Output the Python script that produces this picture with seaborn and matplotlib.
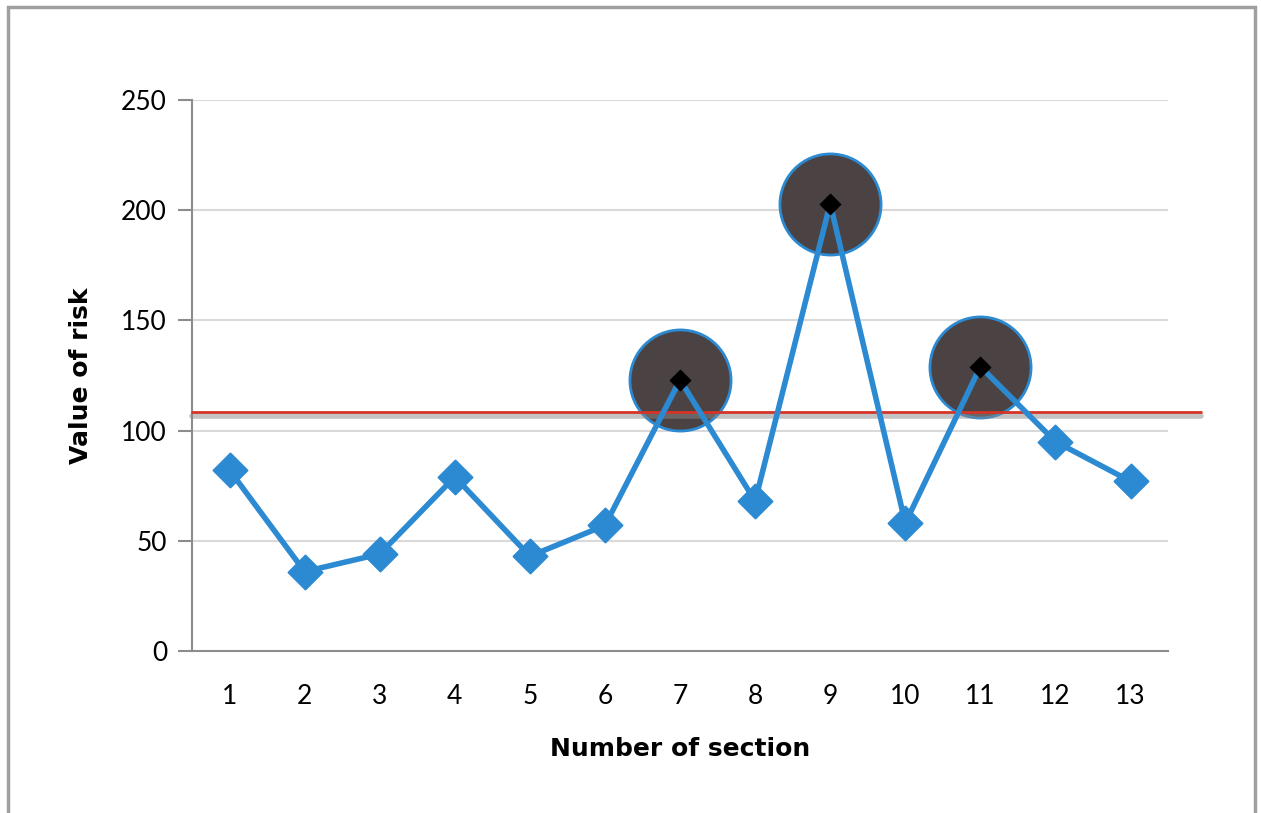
import numpy as np
import pandas as pd
import matplotlib
matplotlib.use("Agg")
import matplotlib.pyplot as plt
import matplotlib.patheffects as pe
from matplotlib.patches import Rectangle
import seaborn as sns

# data
sections = [1, 2, 3, 4, 5, 6, 7, 8, 9, 10, 11, 12, 13]
risk = [82, 36, 44, 79, 43, 57, 123, 68, 203, 58, 129, 95, 77]
highlighted = [7, 9, 11]
threshold = 108.6
y_ticks = [0, 50, 100, 150, 200, 250]

df = pd.DataFrame({"section": sections, "risk": risk})
hi = df[df["section"].isin(highlighted)]
lo = df[~df["section"].isin(highlighted)]

sns.set_style("white")
plt.rcParams['font.family'] = ['Lato', 'DejaVu Sans']

fig = plt.figure(figsize=(12.61, 8.13), dpi=100)
ax = fig.add_axes([0.1523, 0.1993, 0.774, 0.6777])

blue = "#2c8ad2"

# grid
for v in y_ticks[1:]:
    ax.axhline(v, color="#d9d9d9", lw=1.5, zorder=0)

# highlight circles (under the line)
sns.scatterplot(data=hi, x="section", y="risk", ax=ax, s=5300, color="#4b4343",
                edgecolor=blue, linewidth=2, zorder=2, legend=False)

# threshold line with shadow
ax.axhline(threshold, xmin=0, xmax=1.034, color="#d43428", lw=2, clip_on=False, zorder=3,
           path_effects=[pe.SimpleLineShadow(offset=(0, -3), shadow_color="#888888", alpha=0.5, linewidth=4),
                         pe.Normal()])

# main series
sns.lineplot(data=df, x="section", y="risk", ax=ax, color=blue, lw=4, zorder=4)
sns.scatterplot(data=lo, x="section", y="risk", ax=ax, s=300, marker="D", color=blue,
                edgecolor=blue, zorder=5, legend=False)
sns.scatterplot(data=hi, x="section", y="risk", ax=ax, s=110, marker="D", color="black",
                edgecolor="black", zorder=6, legend=False)

ax.set_xlim(0.5, 13.5)
ax.set_ylim(0, 250)
ax.set_yticks(y_ticks)
ax.set_xticks(sections)
ax.set_xticks(np.arange(0.5, 14, 1), minor=True)
ax.tick_params(axis="x", which="major", length=0, pad=24, labelsize=19, labelcolor="black")
ax.tick_params(axis="x", which="minor", length=10, width=1.5, color="#8c8c8c", direction="out")
ax.tick_params(axis="y", length=10, width=1.5, color="#8c8c8c", direction="out", pad=8,
               labelsize=19, labelcolor="black")
ax.tick_params(axis="both", bottom=True, left=True)

for s in ["top", "right"]:
    ax.spines[s].set_visible(False)
for s in ["left", "bottom"]:
    ax.spines[s].set_color("#8c8c8c")
    ax.spines[s].set_linewidth(1.5)

ax.set_xlabel("Number of section", fontsize=18, fontweight="bold", labelpad=20,
              family=["DejaVu Sans"], color="black")
ax.set_ylabel("Value of risk", fontsize=18, fontweight="bold", labelpad=20,
              family=["DejaVu Sans"], color="black")

# outer frame
fig.patches.append(Rectangle((8 / 1261, -0.05), 1247 / 1261, 1.05 - 7 / 813,
                             transform=fig.transFigure, fill=False,
                             edgecolor="#a0a0a0", lw=2.5))

fig.savefig("out.png", dpi=100)
